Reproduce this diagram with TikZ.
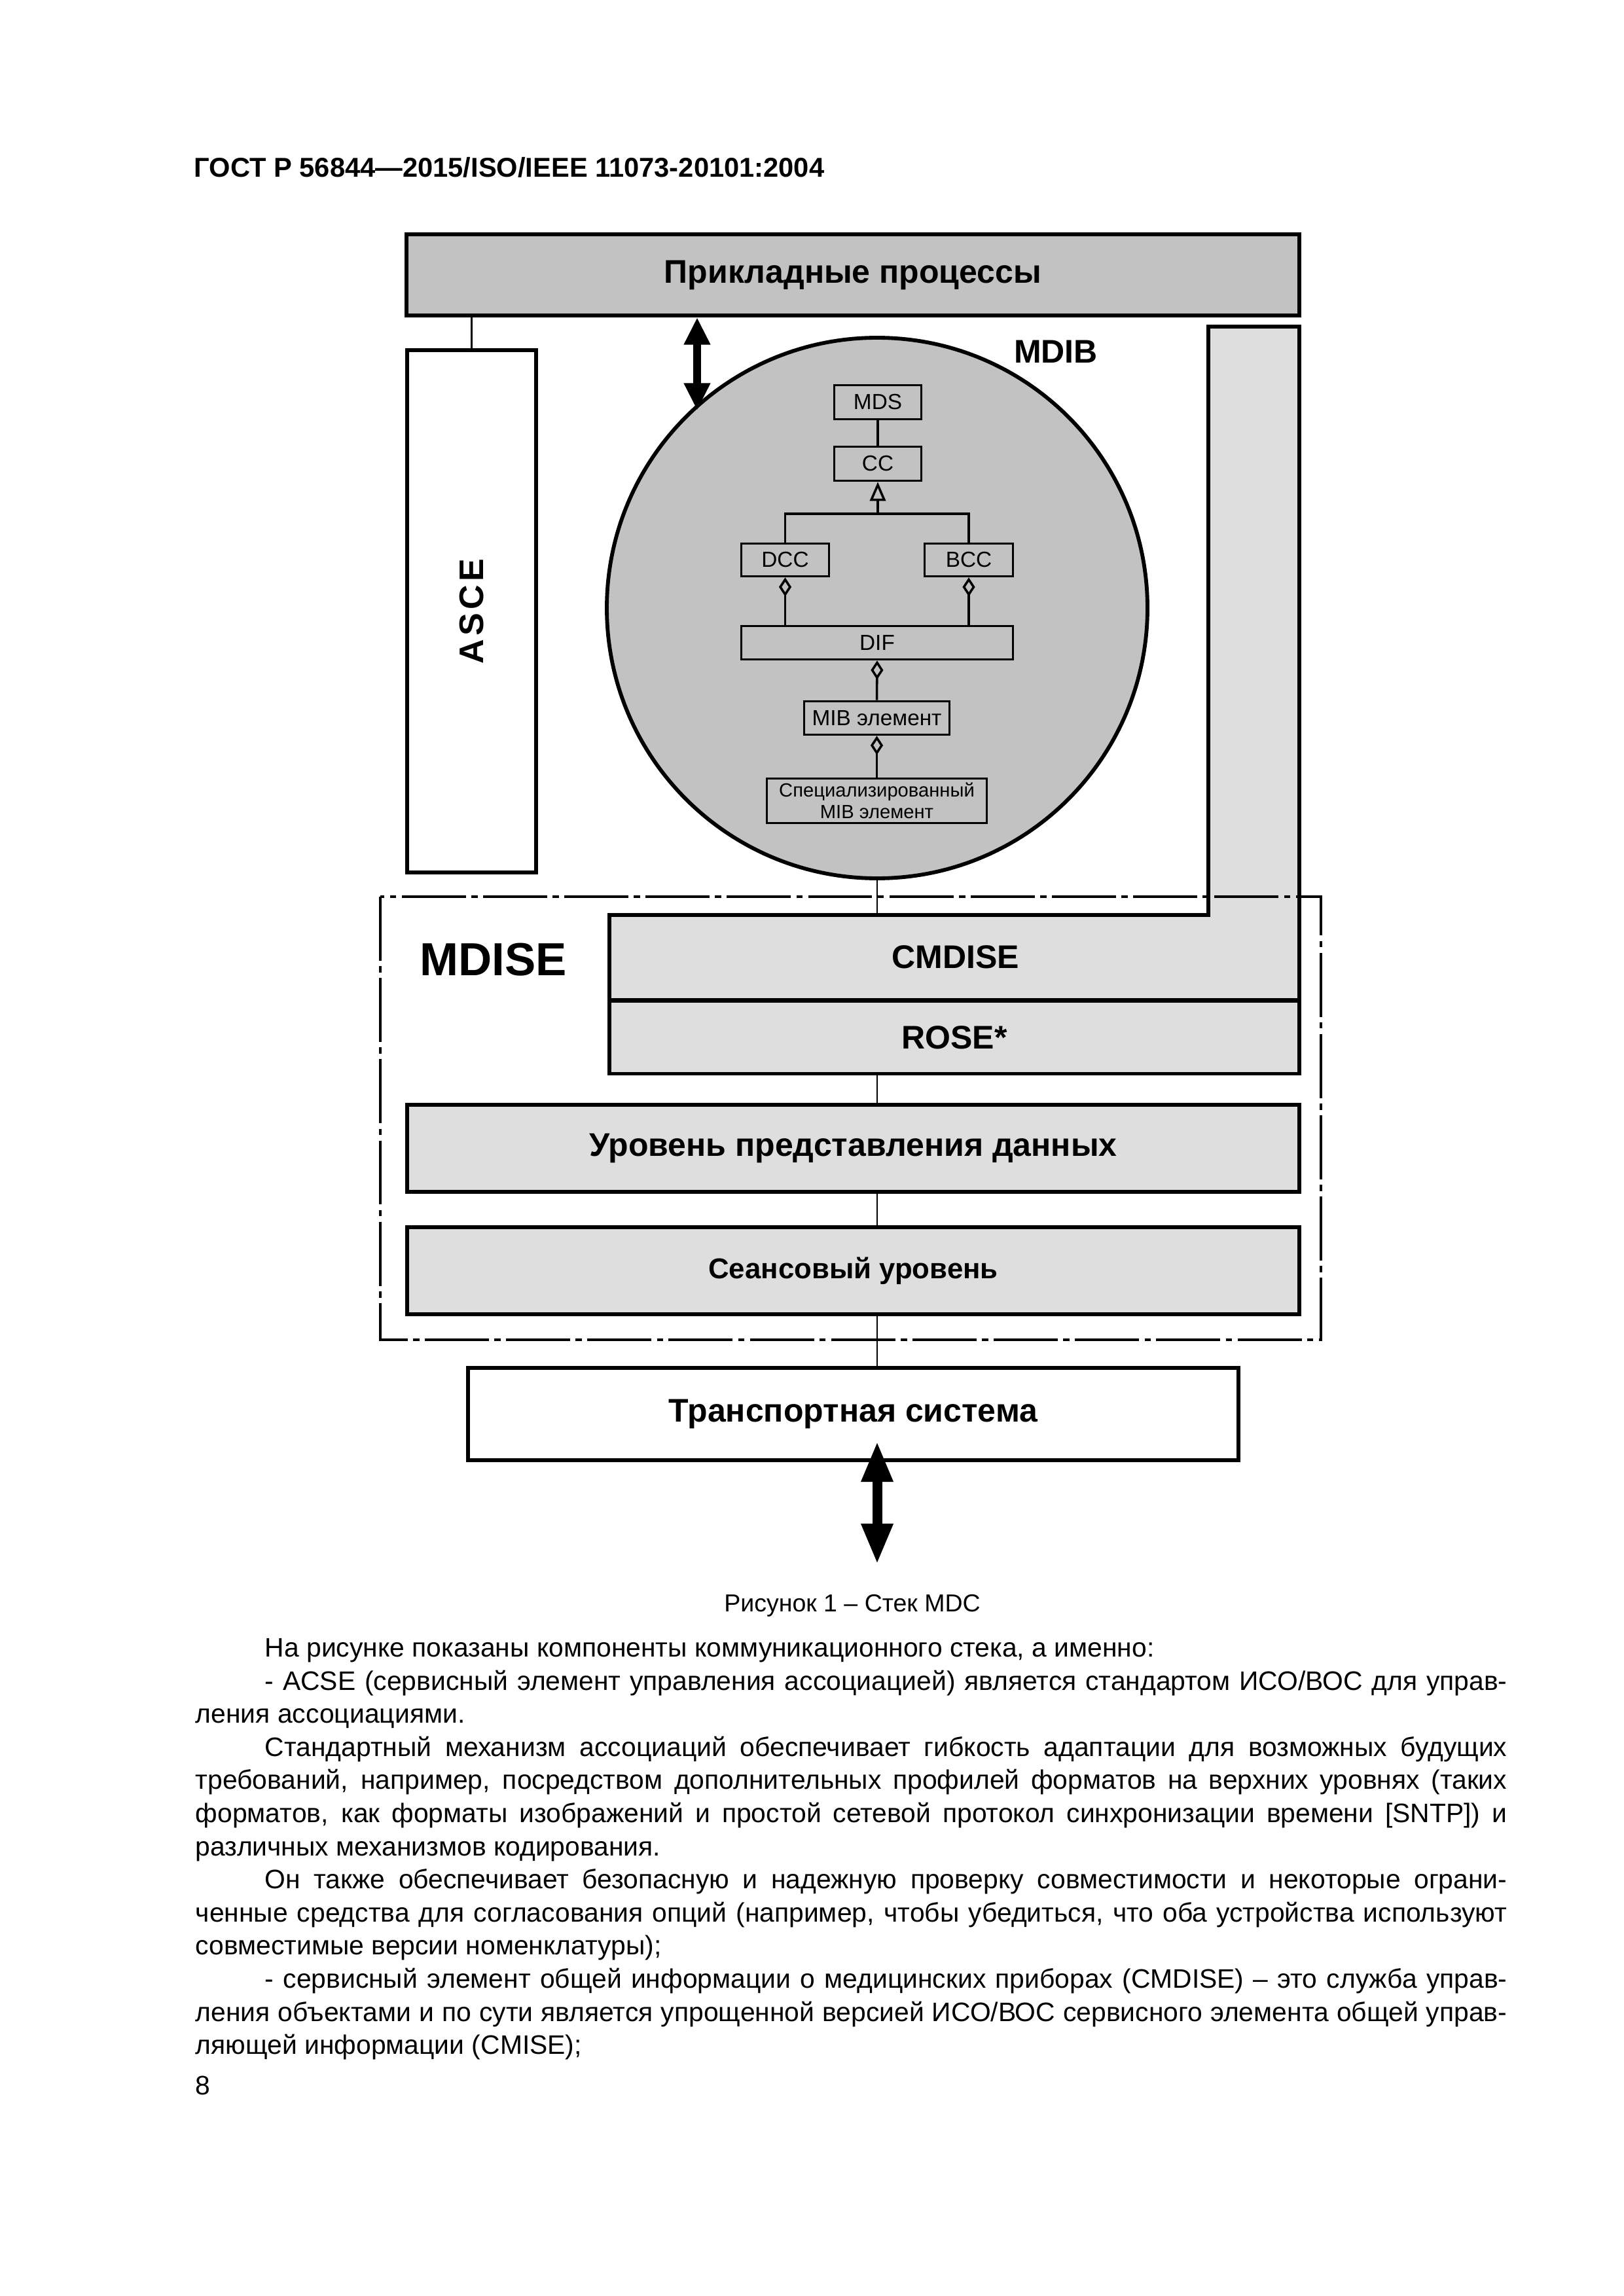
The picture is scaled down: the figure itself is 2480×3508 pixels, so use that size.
\documentclass[tikz,border=0pt]{standalone}
\usepackage{fontspec}
\setmainfont{Liberation Sans}
\usetikzlibrary{arrows.meta}
\definecolor{gdark}{gray}{0.76}
\definecolor{glight}{gray}{0.87}
\newcommand\pxw[1]{#1*0.24pt}
\begin{document}
\begin{tikzpicture}[x=0.24pt,y=-0.24pt,
  mainbox/.style={draw, line width=1.4pt, rectangle, inner sep=0pt, font=\bfseries\fontsize{12}{14}\selectfont},
  umlbox/.style={draw, line width=0.85pt, rectangle, inner sep=0pt, font=\fontsize{8}{8}\selectfont, align=center},
  thinline/.style={line width=0.7pt},
  umlline/.style={line width=0.85pt},
  bodyline/.style={anchor=base west, inner sep=0pt, font=\fontsize{9.8}{12}\selectfont},
  bigarrow/.style={line width=3.1pt, {Triangle[length=10pt,width=9.1pt]}-{Triangle[length=10pt,width=9.1pt]}},
  lowarrow/.style={line width=3.6pt, {Triangle[length=14.9pt,width=10.8pt]}-{Triangle[length=14.9pt,width=10.8pt]}},
  dashdot/.style={line width=1.1pt, dash pattern=on 23.5pt off 2pt on 2.3pt off 2pt},
]
\useasboundingbox[fill=white] (0,0) rectangle (2480,3508);

% header
\node[anchor=base west, inner sep=0pt, font=\bfseries\fontsize{10}{12}\selectfont] (hdr) at (296,271) {ГОСТ Р 56844—2015/ISO/IEEE 11073-20101:2004};

% top box
\node[mainbox, fill=gdark, minimum width=\pxw{1364}, minimum height=\pxw{124}] (app) at (1303,420) {Прикладные процессы};

% ASCE
\node[mainbox, fill=white, minimum width=\pxw{197}, minimum height=\pxw{798}] (asce) at (720.5,934) {};
\node[rotate=90, inner sep=0pt, font=\bfseries\fontsize{12.5}{14}\selectfont] (ascet) at (asce.center) {A\kern1.3pt S\kern1.3pt C\kern1.3pt E};

% circle MDIB
\node[draw, circle, fill=gdark, line width=1.4pt, minimum size=\pxw{826}, inner sep=0pt] (circ) at (1340,929) {};
\node[inner sep=0pt, font=\bfseries\fontsize{12}{14}\selectfont] (mdib) at (1613,537) {MDIB};

% gray L-shaped CMDISE block
\draw[fill=glight, line width=1.4pt] (931,1398) -- (1846,1398) -- (1846,499) -- (1985,499) -- (1985,1528) -- (931,1528) -- cycle;
\node[inner sep=0pt, font=\bfseries\fontsize{12}{14}\selectfont] (cmdise) at (1460,1462) {CMDISE};
\coordinate (cmdtop) at (1340,1398);

% ROSE
\node[mainbox, fill=glight, minimum width=\pxw{1054}, minimum height=\pxw{111}] (rose) at (1458,1585) {ROSE*};

% lower layers
\node[mainbox, fill=glight, minimum width=\pxw{1363}, minimum height=\pxw{133}] (pres) at (1303.5,1754.5) {Уровень представления данных};
\node[mainbox, fill=glight, minimum width=\pxw{1363}, minimum height=\pxw{133}, font=\bfseries\fontsize{10.5}{12}\selectfont] (sess) at (1303.5,1941.5) {Сеансовый уровень};
\node[mainbox, fill=white, minimum width=\pxw{1177}, minimum height=\pxw{141}] (trans) at (1303.5,2160.5) {Транспортная система};

% MDISE label
\node[inner sep=0pt, font=\bfseries\fontsize{17}{20}\selectfont] (mdise) at (754,1466) {MDISE};

% thin connectors
\coordinate (c1) at (1340,1642);
\coordinate (c2) at (1340,1685);
\coordinate (c3) at (1340,1824);
\coordinate (c4) at (1340,1872);
\coordinate (c5) at (1340,2011);
\coordinate (c6) at (1340,2087);
\draw[thinline] (circ.south) -- (cmdtop);
\draw[thinline] (c1) -- (c2);
\draw[thinline] (c3) -- (c4);
\draw[thinline] (c5) -- (c6);
\draw[thinline] (asce.north) -- (asce.north |- app.south);

% arrows
\coordinate (ua1) at (1065,485);
\coordinate (ua2) at (1065,627);
\draw[bigarrow] (ua1) -- (ua2);
\coordinate (la1) at (1340,2202);
\coordinate (la2) at (1340,2390);
\draw[lowarrow] (la1) -- (la2);

% UML inside the circle
\node[umlbox, minimum width=\pxw{133}, minimum height=\pxw{52}] (mds) at (1341,614.5) {MDS};
\node[umlbox, minimum width=\pxw{133}, minimum height=\pxw{52}] (cc) at (1341,708.5) {CC};
\node[umlbox, minimum width=\pxw{134}, minimum height=\pxw{50}] (dcc) at (1199.5,855.5) {DCC};
\node[umlbox, minimum width=\pxw{135}, minimum height=\pxw{50}] (bcc) at (1480,855.5) {BCC};
\node[umlbox, minimum width=\pxw{415}, minimum height=\pxw{51}] (dif) at (1340,982) {DIF};
\node[umlbox, minimum width=\pxw{222}, minimum height=\pxw{51}] (mib) at (1339.5,1097) {MIB элемент};
\node[umlbox, minimum width=\pxw{336}, minimum height=\pxw{68}, font=\fontsize{7}{7.8}\selectfont] (spec) at (1339.5,1223.5) {Специализированный\\MIB элемент};
\coordinate (junc) at (1341,785);
\draw[umlline] (mds.south) -- (cc.north);
\draw[umlline] (dcc.north) |- (junc) -| (bcc.north);
\draw[umlline, -{Triangle[open, length=7pt, width=5.8pt]}] (junc) -- (cc.south);
\draw[umlline, {Diamond[open, length=7pt, width=4.6pt]}-] (dcc.south) -- (dcc.south |- dif.north);
\draw[umlline, {Diamond[open, length=7pt, width=4.6pt]}-] (bcc.south) -- (bcc.south |- dif.north);
\draw[umlline, {Diamond[open, length=7pt, width=4.6pt]}-] (dif.south) -- (mib.north);
\draw[umlline, {Diamond[open, length=7pt, width=4.6pt]}-] (mib.south) -- (spec.north);

% MDISE dash-dot frame
\draw[dashdot] (581,1370) rectangle (2018,2047);

% caption
\node[anchor=base, inner sep=0pt, font=\fontsize{9}{11}\selectfont] (cap) at (1302,2462) {Рисунок 1 – Стек MDC};

% body text
\node[bodyline] (l1) at (404,2531) {На рисунке показаны компоненты коммуникационного стека, а именно:};
\node[bodyline] (l2) at (404,2582) {\makebox[455.4pt][s]{- ACSE (сервисный элемент управления ассоциацией) является стандартом ИСО/ВОС для управ-}};
\node[bodyline] (l3) at (298,2632) {ления ассоциациями.};
\node[bodyline] (l4) at (404,2683) {\makebox[455.4pt][s]{Стандартный механизм ассоциаций обеспечивает гибкость адаптации для возможных будущих}};
\node[bodyline] (l5) at (298,2733) {\makebox[480.8pt][s]{требований, например, посредством дополнительных профилей форматов на верхних уровнях (таких}};
\node[bodyline] (l6) at (298,2784) {\makebox[480.8pt][s]{форматов, как форматы изображений и простой сетевой протокол синхронизации времени [SNTP]) и}};
\node[bodyline] (l7) at (298,2835) {различных механизмов кодирования.};
\node[bodyline] (l8) at (404,2885) {\makebox[455.4pt][s]{Он также обеспечивает безопасную и надежную проверку совместимости и некоторые ограни-}};
\node[bodyline] (l9) at (298,2936) {\makebox[480.8pt][s]{ченные средства для согласования опций (например, чтобы убедиться, что оба устройства используют}};
\node[bodyline] (l10) at (298,2986) {совместимые версии номенклатуры);};
\node[bodyline] (l11) at (404,3037) {\makebox[455.4pt][s]{- сервисный элемент общей информации о медицинских приборах (CMDISE) – это служба управ-}};
\node[bodyline] (l12) at (298,3088) {\makebox[480.8pt][s]{ления объектами и по сути является упрощенной версией ИСО/ВОС сервисного элемента общей управ-}};
\node[bodyline] (l13) at (298,3138) {ляющей информации (CMISE);};

% page number
\node[bodyline] (pg) at (298,3200) {8};
\end{tikzpicture}
\end{document}
